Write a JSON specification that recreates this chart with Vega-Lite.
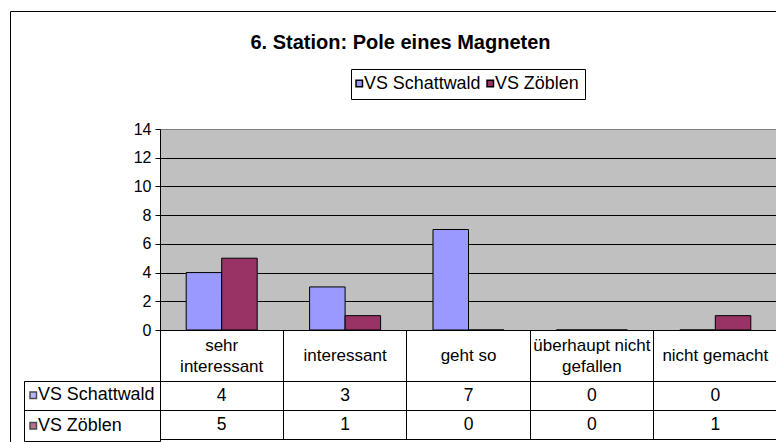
{
  "$schema": "https://vega.github.io/schema/vega-lite/v6.json",
  "background": "white",
  "padding": {"left": 9, "top": 10, "right": 0, "bottom": 0},
  "title": {
    "text": "6. Station: Pole eines Magneten",
    "font": "Liberation Sans",
    "fontSize": 20,
    "fontWeight": "bold",
    "color": "#000",
    "anchor": "middle",
    "frame": "bounds",
    "offset": -42.5
  },
  "datasets": {
    "answers": [
      {"category": "sehr interessant", "series": "VS Schattwald", "value": 4},
      {"category": "sehr interessant", "series": "VS Zöblen", "value": 5},
      {"category": "interessant", "series": "VS Schattwald", "value": 3},
      {"category": "interessant", "series": "VS Zöblen", "value": 1},
      {"category": "geht so", "series": "VS Schattwald", "value": 7},
      {"category": "geht so", "series": "VS Zöblen", "value": 0},
      {"category": "überhaupt nicht gefallen", "series": "VS Schattwald", "value": 0},
      {"category": "überhaupt nicht gefallen", "series": "VS Zöblen", "value": 0},
      {"category": "nicht gemacht", "series": "VS Schattwald", "value": 0},
      {"category": "nicht gemacht", "series": "VS Zöblen", "value": 1}
    ]
  },
  "spacing": 51,
  "bounds": "flush",
  "resolve": {"scale": {"color": "independent"}, "legend": {"color": "independent"}},
  "vconcat": [
    {
      "width": 617,
      "height": 201,
      "data": {"name": "answers"},
      "view": {"fill": "#C0C0C0", "stroke": "#808080"},
      "layer": [
        {
          "mark": {"type": "bar", "stroke": "#000", "strokeWidth": 1},
          "encoding": {
            "x": {
              "field": "category",
              "type": "nominal",
              "sort": ["sehr interessant", "interessant", "geht so", "überhaupt nicht gefallen", "nicht gemacht"],
              "scale": {"type": "band", "paddingInner": 0, "paddingOuter": 0},
              "axis": {
                "title": null,
                "labelAngle": 0,
                "bandPosition": 0,
                "ticks": true,
                "tickSize": 51,
                "tickColor": "#000",
                "domainColor": "#000",
                "labelPadding": {"condition": {"test": "datum.value == 'sehr interessant' || datum.value == 'überhaupt nicht gefallen'", "value": -36}, "value": -26},
                "labelBaseline": "middle",
                "labelAlign": "center",
                "labelFontSize": 17,
                "labelLineHeight": 21,
                "labelColor": "#000",
                "labelOverlap": false,
                "labelBound": false,
                "labelExpr": "datum.label == 'sehr interessant' ? ['sehr', 'interessant'] : datum.label == 'überhaupt nicht gefallen' ? ['überhaupt nicht', 'gefallen'] : datum.label"
              }
            },
            "xOffset": {
              "field": "series",
              "sort": ["VS Schattwald", "VS Zöblen"],
              "scale": {"paddingInner": 0, "paddingOuter": 0.738}
            },
            "y": {
              "field": "value",
              "type": "quantitative",
              "scale": {"domain": [0, 14], "nice": false},
              "axis": {
                "title": null,
                "values": [0, 2, 4, 6, 8, 10, 12, 14],
                "tickSize": 5,
                "tickColor": "#000",
                "domainColor": "#000",
                "grid": true,
                "gridColor": {"condition": {"test": "datum.value >= 14", "value": "#808080"}, "value": "#000"},
                "labelFontSize": 16,
                "labelColor": "#000",
                "labelPadding": 4,
                "minExtent": 136
              }
            },
            "color": {
              "field": "series",
              "type": "nominal",
              "scale": {"domain": ["VS Schattwald", "VS Zöblen"], "range": ["#9999FF", "#993366"]},
              "legend": {
                "title": null,
                "orient": "none",
                "direction": "horizontal",
                "legendX": 191,
                "legendY": -60,
                "strokeColor": "#000",
                "padding": 5.55,
                "symbolType": "square",
                "symbolSize": 42,
                "symbolStrokeColor": "#000",
                "symbolOffset": -6.25,
                "labelFontSize": 17.91,
                "labelColor": "#000",
                "labelOffset": -4.2,
                "columnPadding": 3
              }
            }
          }
        },
        {
          "mark": {"type": "point", "size": 0, "filled": true},
          "encoding": {
            "shape": {
              "field": "category",
              "type": "nominal",
              "legend": {
                "title": null,
                "orient": "none",
                "direction": "vertical",
                "legendX": -150,
                "legendY": -118,
                "strokeColor": "#000",
                "padding": 389.5,
                "symbolSize": 0,
                "symbolOpacity": 0,
                "labelFontSize": 1,
                "labelOffset": 0,
                "labelExpr": "''"
              }
            }
          }
        }
      ]
    },
    {
      "width": 617,
      "height": 58,
      "data": {"name": "answers"},
      "view": {"fill": "white", "stroke": "#000"},
      "encoding": {
        "x": {
          "field": "category",
          "type": "nominal",
          "sort": ["sehr interessant", "interessant", "geht so", "überhaupt nicht gefallen", "nicht gemacht"],
          "scale": {"type": "band", "paddingInner": 0, "paddingOuter": 0},
          "axis": {"title": null, "labels": false, "ticks": false, "domain": false, "grid": true, "gridColor": "#000", "bandPosition": 0, "minExtent": 0, "maxExtent": 0}
        },
        "y": {
          "field": "series",
          "type": "nominal",
          "sort": ["VS Schattwald", "VS Zöblen"],
          "scale": {"type": "band", "paddingInner": 0, "paddingOuter": 0},
          "axis": {"title": null, "labels": false, "domain": false, "ticks": true, "tickSize": 136, "tickColor": "#000", "bandPosition": 0, "grid": true, "gridColor": "#000", "minExtent": 136, "maxExtent": 136}
        }
      },
      "layer": [
        {
          "mark": {"type": "text", "fontSize": 17.5, "color": "#000", "font": "Liberation Sans"},
          "encoding": {"text": {"field": "value", "type": "quantitative"}}
        },
        {
          "mark": {"type": "point", "filled": true, "size": 0},
          "encoding": {
            "color": {
              "field": "series",
              "type": "nominal",
              "scale": {"domain": ["VS Schattwald", "VS Zöblen"], "range": ["#9999FF", "#993366"]},
              "legend": {
                "title": null,
                "orient": "none",
                "direction": "vertical",
                "legendX": -136,
                "legendY": 0,
                "strokeColor": "#000",
                "padding": 5.4,
                "rowPadding": 11.38,
                "symbolType": "square",
                "symbolSize": 42,
                "symbolStrokeColor": "#000",
                "symbolOffset": -5.1,
                "labelFontSize": 17.91,
                "labelColor": "#000",
                "labelOffset": -4.2
              }
            }
          }
        }
      ]
    }
  ],
  "config": {
    "font": "Liberation Sans",
    "axis": {"labelFont": "Liberation Sans"},
    "legend": {"labelFont": "Liberation Sans"}
  }
}
